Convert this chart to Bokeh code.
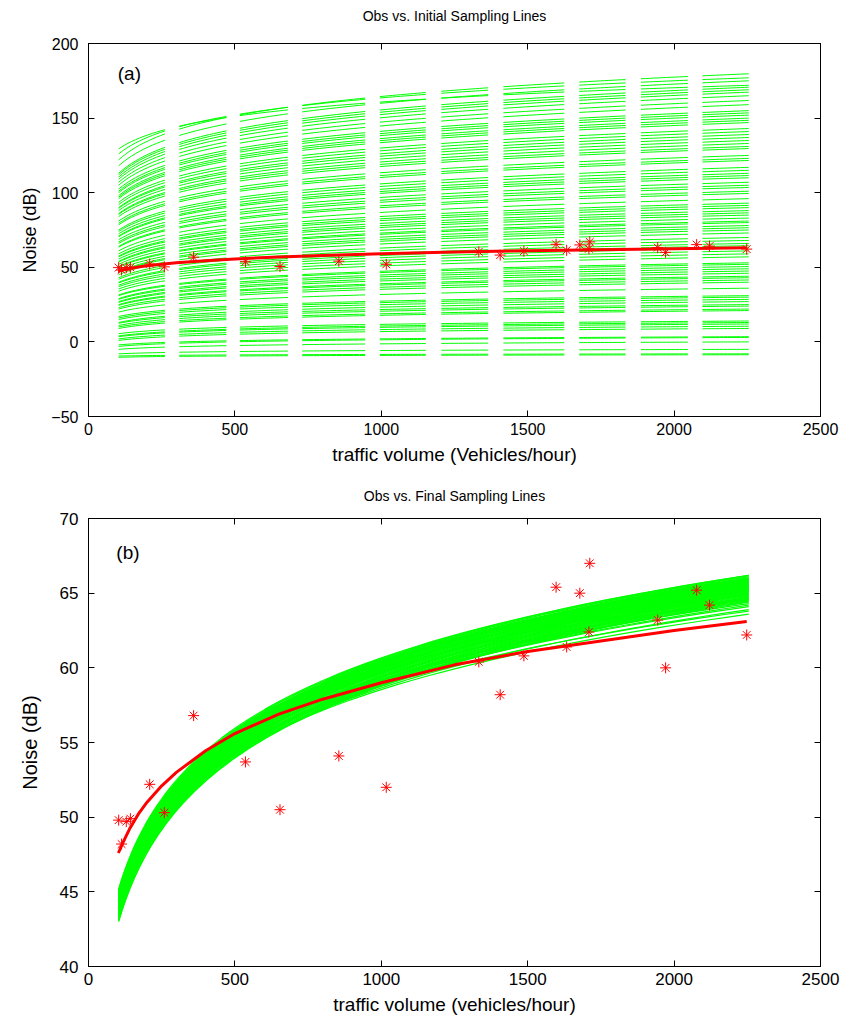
import numpy as np
from bokeh.plotting import figure
from bokeh.models import LinearAxis, Range1d, FixedTicker
from bokeh.layouts import column
from bokeh.embed import file_html
from bokeh.resources import INLINE
from bokeh.core.properties import value

FONT = "Liberation Sans"

# ---------------- data ----------------
obs_volume = [103, 113, 129, 143, 209, 259, 359, 536, 654, 855, 1017, 1333,
              1406, 1487, 1597, 1633, 1678, 1709, 1712, 1944, 1971, 2077, 2121, 2248]
obs_noise = [49.8, 48.2, 49.7, 49.9, 52.2, 50.3, 56.8, 53.7, 50.5, 54.1, 52.0, 60.4,
             58.2, 60.8, 65.4, 61.4, 65.0, 62.4, 67.0, 63.2, 60.0, 65.2, 64.2, 62.2]

fit_volume = [102, 120, 140, 170, 200, 250, 300, 400, 500, 650, 800, 1000,
              1250, 1500, 1750, 2000, 2248]
fit_noise = [47.6, 48.4, 49.2, 50.2, 51.0, 52.1, 53.0, 54.45, 55.6, 56.9, 57.9, 59.0,
             60.2, 61.1, 61.8, 62.5, 63.1]

# volume span of the sampling lines
sample_first = 103
sample_last = 2255
# columns in which the initial sampling lines are visible
init_columns = [(103, 261), (310, 471), (517, 681), (730, 945), (995, 1152),
                (1205, 1365), (1417, 1625), (1676, 1834), (1887, 2047), (2097, 2255)]

# initial sampling lines: noise at first and last volume
init_start = [-10.3, -9.5, -8.0, -5.0, -3.0, -2.0, 1.0, 2.0, 3.5, 4.0, 5.5, 9.0, 10.0,
              11.0, 12.5, 13.0, 15.0, 16.0, 17.0, 20.0, 22.0, 23.0, 24.5, 25.0, 26.5,
              27.0, 28.5, 29.0, 31.0, 31.5, 34.0, 35.5, 37.0, 38.0, 39.5, 40.0, 42.0,
              43.0, 45.0, 46.5, 47.0, 48.5, 50.0, 50.5, 52.0, 53.5, 54.0, 55.5, 57.0,
              57.5, 59.0, 61.0, 63.5, 64.0, 66.0, 67.0, 68.5, 70.5, 71.0, 72.5, 74.0,
              75.0, 78.5, 79.5, 81.0, 84.0, 85.5, 86.0, 88.0, 89.5, 90.0, 92.0, 93.5,
              96.0, 97.0, 98.0, 100.0, 101.0, 102.5, 105.0, 107.0, 109.0, 110.5, 112.0,
              113.0, 118.0, 122.0, 126.0, 129.4]
init_end = [-8.6, -8.0, -5.0, 0.0, 3.0, 3.5, 9.0, 10.5, 12.0, 13.0, 14.0, 21.0, 22.0,
            24.0, 25.0, 27.0, 28.5, 30.0, 31.0, 36.0, 40.0, 41.5, 43.0, 44.0, 46.0,
            47.5, 49.0, 50.5, 52.0, 53.0, 57.0, 59.0, 61.0, 63.0, 64.5, 66.0, 68.0,
            70.0, 73.0, 75.0, 76.5, 78.0, 80.0, 81.0, 83.0, 85.0, 86.5, 88.0, 90.0,
            91.5, 93.0, 96.0, 99.5, 101.0, 103.5, 105.0, 107.0, 110.0, 111.5, 113.0, 115.0,
            117.0, 121.6, 123.0, 125.0, 129.6, 131.0, 133.0, 135.0, 137.0, 139.0, 141.0, 143.0,
            147.0, 148.5, 150.0, 152.0, 153.5, 155.0, 159.0, 161.8, 165.0, 167.4, 169.0,
            170.7, 175.0, 179.7, 177.0, 172.0]

# final sampling lines: noise at first and last volume
final_start = [43.0, 43.1, 43.3, 43.2, 43.5, 43.4, 43.6, 43.8, 43.7, 43.9, 44.0, 43.8,
               44.1, 44.2, 44.0, 44.3, 44.4, 44.2, 44.5, 44.6, 44.4, 44.7, 44.8, 44.6,
               44.9, 45.0, 44.8, 45.1, 45.2, 45.0, 43.5, 44.0, 44.5, 43.9, 44.3, 44.9,
               44.2, 44.6, 44.0, 44.8, 44.4, 45.0,
               43.05, 43.15, 43.25, 43.35, 43.45, 43.55, 43.65, 43.75, 43.85, 43.95,
               44.05, 44.15, 44.25, 44.35, 44.45, 44.55, 44.65, 44.75, 44.85, 44.95,
               45.05, 43.6, 43.9, 44.3, 44.7, 45.1]
final_end = [64.4, 64.5, 64.6, 64.7, 64.8, 64.9, 65.0, 65.0, 65.1, 65.2, 65.2, 65.3,
             65.3, 65.4, 65.4, 65.5, 65.5, 65.6, 65.6, 65.7, 65.7, 65.8, 65.8, 65.9,
             65.9, 66.0, 66.0, 66.1, 66.2, 66.2, 64.6, 64.9, 65.1, 65.6, 65.9, 65.4,
             64.2, 64.1, 63.9, 63.8, 63.6, 64.3,
             64.45, 64.55, 64.65, 64.75, 64.85, 64.95, 65.05, 65.15, 65.25, 65.35,
             65.45, 65.55, 65.65, 65.75, 65.85, 65.95, 66.05, 66.15, 65.75, 65.85,
             65.95, 64.7, 64.95, 65.2, 65.5, 65.8]

x_ticks = [0, 500, 1000, 1500, 2000, 2500]
y_ticks_a = [-50, 0, 50, 100, 150, 200]
y_ticks_b = [40, 45, 50, 55, 60, 65, 70]


def log_curve(start, end, xs):
    t = np.log(xs / sample_first) / np.log(sample_last / sample_first)
    return start + (end - start) * t


def style(p, title, xt, yt, tick_size, xlab_size, ylab_size, ylab_standoff, title_standoff):
    p.xgrid.visible = False
    p.ygrid.visible = False
    p.outline_line_color = "black"
    p.outline_line_width = 1
    # top axis carries the panel title (ticks only, no tick labels)
    p.add_layout(LinearAxis(axis_label=title), "above")
    p.add_layout(LinearAxis(), "right")
    for ax in p.xaxis:
        ax.ticker = FixedTicker(ticks=xt)
    for ax in p.yaxis:
        ax.ticker = FixedTicker(ticks=yt)
    for ax in p.axis:
        ax.major_tick_in = 6
        ax.major_tick_out = 0
        ax.minor_tick_in = 0
        ax.minor_tick_out = 0
        ax.axis_line_color = "black"
        ax.major_tick_line_color = "black"
        ax.major_label_text_font = FONT
        ax.major_label_text_color = "black"
        ax.axis_label_text_font = FONT
        ax.axis_label_text_font_style = "normal"
        ax.axis_label_text_color = "black"
    for side in ("above", "right"):
        for ax in getattr(p, side):
            if isinstance(ax, LinearAxis):
                ax.major_label_text_font_size = "1px"
                ax.major_label_text_alpha = 0
                ax.major_label_text_color = None
                ax.major_label_standoff = 0
    top = p.above[0]
    top.axis_label_text_font_size = "14px"
    top.axis_label_standoff = title_standoff
    p.below[0].major_label_text_font_size = tick_size
    p.below[0].major_label_standoff = 6
    p.below[0].axis_label_text_font_size = xlab_size
    p.below[0].axis_label_standoff = 6
    p.left[0].major_label_text_font_size = tick_size
    p.left[0].major_label_standoff = 10
    p.left[0].axis_label_text_font_size = ylab_size
    p.left[0].axis_label_standoff = ylab_standoff


# ---------------- panel (a) ----------------
pa = figure(width=852, height=470, x_range=Range1d(0, 2500), y_range=Range1d(-50, 200),
            output_backend="svg", toolbar_location=None,
            x_axis_label="traffic volume (Vehicles/hour)", y_axis_label="Noise (dB)",
            min_border_left=88, min_border_right=32, min_border_top=43, min_border_bottom=54)

xs_a, ys_a = [], []
for s, e in zip(init_start, init_end):
    xx, yy = [], []
    for c0, c1 in init_columns:
        seg = np.linspace(c0, c1, 12)
        xx.extend(seg.tolist() + [np.nan])
        yy.extend(log_curve(s, e, seg).tolist() + [np.nan])
    xs_a.append(xx)
    ys_a.append(yy)
pa.multi_line(xs_a, ys_a, line_color="#00ff00", line_width=1)
pa.line(fit_volume, fit_noise, line_color="#ff0000", line_width=3)
pa.scatter(obs_volume, obs_noise, marker="asterisk", size=11, line_color="#ff0000", line_width=1)
pa.text(x=[100], y=[180], text=["(a)"], text_font=value(FONT), text_font_size="19px",
        text_baseline="middle", text_align="left", text_color="black")
style(pa, "Obs vs. Initial Sampling Lines", x_ticks, y_ticks_a, "16px", "19px", "18px", 8, 20)

# ---------------- panel (b) ----------------
pb = figure(width=852, height=549, x_range=Range1d(0, 2500), y_range=Range1d(40, 70),
            output_backend="svg", toolbar_location=None,
            x_axis_label="traffic volume (vehicles/hour)", y_axis_label="Noise (dB)",
            min_border_left=82, min_border_right=18, min_border_top=48, min_border_bottom=53)

grid_b = np.geomspace(sample_first, sample_last, 90)
xs_b = [grid_b.tolist() for _ in final_start]
ys_b = [log_curve(s, e, grid_b).tolist() for s, e in zip(final_start, final_end)]
pb.multi_line(xs_b, ys_b, line_color="#00ff00", line_width=1.2)
pb.line(fit_volume, fit_noise, line_color="#ff0000", line_width=3)
pb.scatter(obs_volume, obs_noise, marker="asterisk", size=11, line_color="#ff0000", line_width=1)
pb.text(x=[95], y=[67.7], text=["(b)"], text_font=value(FONT), text_font_size="19px",
        text_baseline="middle", text_align="left", text_color="black")
style(pb, "Obs vs. Final Sampling Lines", x_ticks, y_ticks_b, "17px", "19px", "20px", 16, 15)

layout = column(pa, pb, spacing=0)
open("out.html", "w").write(file_html(layout, INLINE))
